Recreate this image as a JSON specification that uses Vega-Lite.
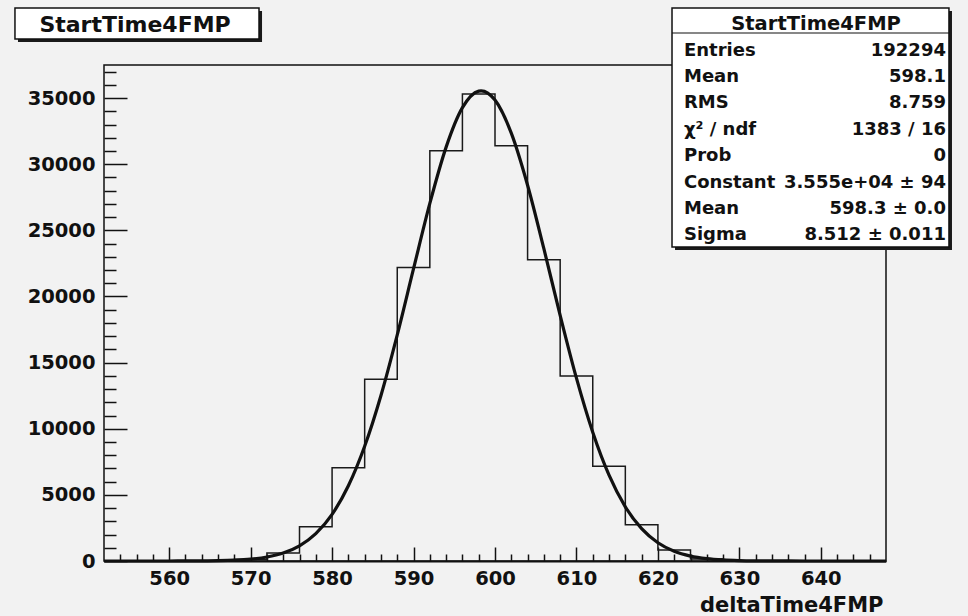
{
  "$schema": "https://vega.github.io/schema/vega-lite/v6.json",
  "width": 782,
  "height": 496,
  "autosize": {"type": "none"},
  "padding": {"left": 104, "top": 65, "right": 82, "bottom": 55},
  "background": "#f2f2f2",
  "config": {
    "view": {"stroke": "#111", "strokeWidth": 1.5, "fill": "#f2f2f2"},
    "font": "DejaVu Sans"
  },
  "datasets": {
    "hist": [
      {"bin_start": 552, "count": 0},
      {"bin_start": 556, "count": 0},
      {"bin_start": 560, "count": 2},
      {"bin_start": 564, "count": 15},
      {"bin_start": 568, "count": 110},
      {"bin_start": 572, "count": 610},
      {"bin_start": 576, "count": 2594},
      {"bin_start": 580, "count": 7057},
      {"bin_start": 584, "count": 13744},
      {"bin_start": 588, "count": 22185},
      {"bin_start": 592, "count": 31012},
      {"bin_start": 596, "count": 35301},
      {"bin_start": 600, "count": 31390},
      {"bin_start": 604, "count": 22768},
      {"bin_start": 608, "count": 13993},
      {"bin_start": 612, "count": 7163},
      {"bin_start": 616, "count": 2746},
      {"bin_start": 620, "count": 832},
      {"bin_start": 624, "count": 160},
      {"bin_start": 628, "count": 25},
      {"bin_start": 632, "count": 3},
      {"bin_start": 636, "count": 0},
      {"bin_start": 640, "count": 0},
      {"bin_start": 644, "count": 0},
      {"bin_start": 648, "count": 0}
    ],
    "fit": [
      {"x": 552, "fit": 0},
      {"x": 556, "fit": 0.1},
      {"x": 560, "fit": 1.4},
      {"x": 562, "fit": 4},
      {"x": 564, "fit": 10.6},
      {"x": 566, "fit": 26.5},
      {"x": 568, "fit": 62.9},
      {"x": 570, "fit": 141.4},
      {"x": 572, "fit": 300.8},
      {"x": 574, "fit": 604.4},
      {"x": 576, "fit": 1149},
      {"x": 578, "fit": 2069},
      {"x": 580, "fit": 3525},
      {"x": 582, "fit": 5685},
      {"x": 584, "fit": 8671},
      {"x": 586, "fit": 12513},
      {"x": 588, "fit": 17096},
      {"x": 590, "fit": 22098},
      {"x": 592, "fit": 27032},
      {"x": 594, "fit": 31291},
      {"x": 596, "fit": 34274},
      {"x": 598, "fit": 35528},
      {"x": 598.3, "fit": 35550},
      {"x": 600, "fit": 34848},
      {"x": 602, "fit": 32347},
      {"x": 604, "fit": 28412},
      {"x": 606, "fit": 23612},
      {"x": 608, "fit": 18571},
      {"x": 610, "fit": 13822},
      {"x": 612, "fit": 9734},
      {"x": 614, "fit": 6488},
      {"x": 616, "fit": 4092},
      {"x": 618, "fit": 2442},
      {"x": 620, "fit": 1379},
      {"x": 622, "fit": 737},
      {"x": 624, "fit": 373},
      {"x": 626, "fit": 178},
      {"x": 628, "fit": 81},
      {"x": 630, "fit": 35},
      {"x": 632, "fit": 14},
      {"x": 634, "fit": 5.4},
      {"x": 636, "fit": 2},
      {"x": 640, "fit": 0.2},
      {"x": 644, "fit": 0},
      {"x": 648, "fit": 0}
    ]
  },
  "layer": [
    {
      "data": {"name": "hist"},
      "mark": {"type": "line", "interpolate": "step-after", "color": "#1a1a1a", "strokeWidth": 1.5},
      "encoding": {
        "x": {
          "field": "bin_start", "type": "quantitative",
          "scale": {"domain": [552, 648], "nice": false, "zero": false},
          "axis": {
            "orient": "bottom",
            "values": [560, 570, 580, 590, 600, 610, 620, 630, 640],
            "format": "d",
            "tickSize": -14, "tickWidth": 1.5, "tickColor": "#111",
            "labelPadding": 22, "labelFont": "DejaVu Sans", "labelFontWeight": "bold", "labelFontSize": 19.5, "labelColor": "#111",
            "domain": true, "domainWidth": 2, "domainColor": "#111",
            "grid": false,
            "title": "deltaTime4FMP", "titleFont": "DejaVu Sans", "titleFontSize": 21, "titleFontWeight": "bold", "titleColor": "#111",
            "titleAnchor": "end", "titleAlign": "right", "titleBaseline": "top", "titleX": 779, "titleY": 33
          }
        },
        "y": {
          "field": "count", "type": "quantitative",
          "scale": {"domain": [0, 37500], "nice": false, "zero": true},
          "axis": {
            "orient": "left",
            "values": [0, 5000, 10000, 15000, 20000, 25000, 30000, 35000],
            "format": "d",
            "tickSize": -23, "tickWidth": 1.5, "tickColor": "#111",
            "labelPadding": 32, "labelFont": "DejaVu Sans", "labelFontWeight": "bold", "labelFontSize": 19.5, "labelColor": "#111",
            "domain": false, "grid": false, "title": null
          }
        }
      }
    },
    {
      "data": {"name": "fit"},
      "mark": {"type": "line", "interpolate": "monotone", "color": "#111", "strokeWidth": 3.2},
      "encoding": {
        "x": {
          "field": "x", "type": "quantitative",
          "axis": {
            "orient": "bottom",
            "values": [554, 556, 558, 562, 564, 566, 568, 572, 574, 576, 578, 582, 584, 586, 588, 592, 594, 596, 598, 602, 604, 606, 608, 612, 614, 616, 618, 622, 624, 626, 628, 632, 634, 636, 638, 642, 644, 646],
            "tickSize": -7, "tickWidth": 1.5, "tickColor": "#111",
            "labels": false, "domain": false, "grid": false, "title": null
          }
        },
        "y": {
          "field": "fit", "type": "quantitative",
          "axis": {
            "orient": "left",
            "values": [1000, 2000, 3000, 4000, 6000, 7000, 8000, 9000, 11000, 12000, 13000, 14000, 16000, 17000, 18000, 19000, 21000, 22000, 23000, 24000, 26000, 27000, 28000, 29000, 31000, 32000, 33000, 34000, 36000, 37000],
            "tickSize": -12, "tickWidth": 1.5, "tickColor": "#111",
            "labels": false, "domain": false, "grid": false, "title": null
          }
        }
      }
    },
    {
      "data": {"values": [{}]},
      "mark": {"type": "rect", "fill": "#1a1a1a"},
      "encoding": {
        "x": {"datum": 541.44, "type": "quantitative", "axis": null},
        "x2": {"datum": 571.40},
        "y": {"datum": 41583, "type": "quantitative", "axis": null},
        "y2": {"datum": 39239}
      }
    },
    {
      "data": {"values": [{}]},
      "mark": {"type": "rect", "fill": "#ffffff", "stroke": "#111", "strokeWidth": 1.5},
      "encoding": {
        "x": {"datum": 541.07, "type": "quantitative", "axis": null},
        "x2": {"datum": 571.03},
        "y": {"datum": 41810, "type": "quantitative", "axis": null},
        "y2": {"datum": 39466}
      }
    },
    {
      "data": {"values": [{}]},
      "mark": {"type": "text", "text": "StartTime4FMP", "font": "DejaVu Sans", "fontWeight": "bold", "fontSize": 22, "color": "#111", "align": "center", "baseline": "middle"},
      "encoding": {
        "x": {"datum": 555.81, "type": "quantitative", "axis": null},
        "y": {"datum": 40487, "type": "quantitative", "axis": null}
      }
    },
    {
      "data": {"values": [{}]},
      "mark": {"type": "rect", "fill": "#1a1a1a"},
      "encoding": {
        "x": {"datum": 622.10, "type": "quantitative", "axis": null},
        "x2": {"datum": 656.10},
        "y": {"datum": 41583, "type": "quantitative", "axis": null},
        "y2": {"datum": 23513}
      }
    },
    {
      "data": {"values": [{}]},
      "mark": {"type": "rect", "fill": "#ffffff", "stroke": "#111", "strokeWidth": 1.5},
      "encoding": {
        "x": {"datum": 621.73, "type": "quantitative", "axis": null},
        "x2": {"datum": 655.73},
        "y": {"datum": 41810, "type": "quantitative", "axis": null},
        "y2": {"datum": 23740}
      }
    },
    {
      "data": {"values": [{}]},
      "mark": {"type": "rule", "color": "#111", "strokeWidth": 1.2},
      "encoding": {
        "x": {"datum": 621.73, "type": "quantitative", "axis": null},
        "x2": {"datum": 655.73},
        "y": {"datum": 39919, "type": "quantitative", "axis": null}
      }
    },
    {
      "data": {"values": [{}]},
      "mark": {"type": "text", "text": "StartTime4FMP", "font": "DejaVu Sans", "fontWeight": "bold", "fontSize": 19.5, "color": "#111", "align": "center", "baseline": "middle"},
      "encoding": {
        "x": {"datum": 639.41, "type": "quantitative", "axis": null},
        "y": {"datum": 40562, "type": "quantitative", "axis": null}
      }
    },
    {
      "data": {"values": [{}]},
      "mark": {"type": "text", "text": ["Entries", "Mean", "RMS", "χ² / ndf", "Prob", "Constant", "Mean", "Sigma"], "lineHeight": 26.4, "font": "DejaVu Sans", "fontWeight": "bold", "fontSize": 18, "color": "#111", "align": "left", "baseline": "middle"},
      "encoding": {
        "x": {"datum": 623.20, "type": "quantitative", "axis": null},
        "y": {"datum": 38581, "type": "quantitative", "axis": null}
      }
    },
    {
      "data": {"values": [{}]},
      "mark": {"type": "text", "text": ["192294", "598.1", "8.759", "1383 / 16", "0", "3.555e+04 ± 94", "598.3 ± 0.0", "8.512 ± 0.011"], "lineHeight": 26.4, "font": "DejaVu Sans", "fontWeight": "bold", "fontSize": 18, "color": "#111", "align": "right", "baseline": "middle"},
      "encoding": {
        "x": {"datum": 655.36, "type": "quantitative", "axis": null},
        "y": {"datum": 38581, "type": "quantitative", "axis": null}
      }
    }
  ],
  "resolve": {"axis": {"x": "independent", "y": "independent"}}
}
